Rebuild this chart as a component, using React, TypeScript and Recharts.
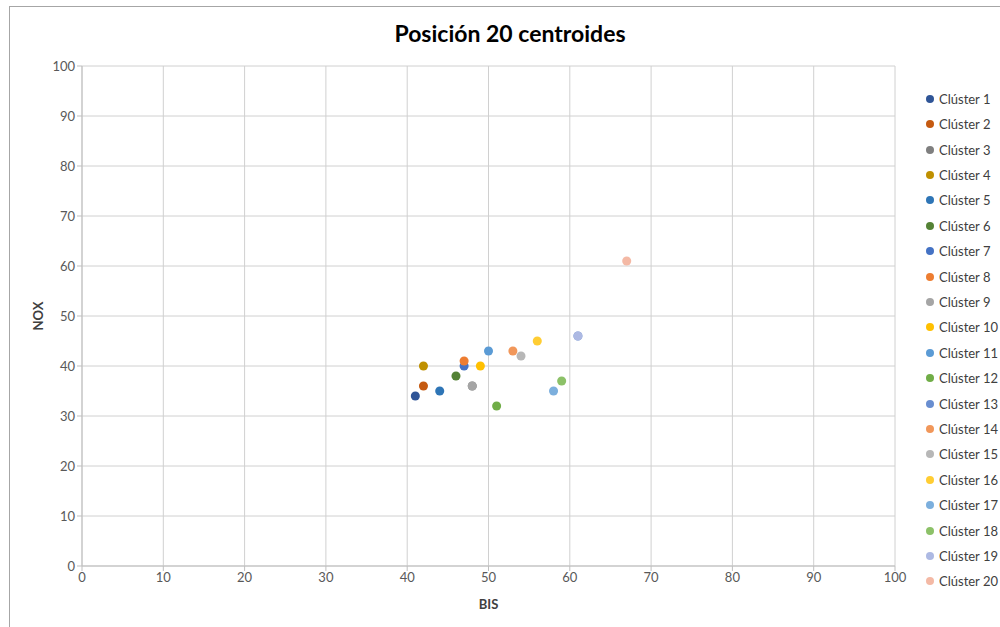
import React from "react";
import {
  CartesianGrid,
  ScatterChart,
  Scatter,
  XAxis,
  YAxis,
} from "recharts";

// Centroid positions (BIS, NOX) for each of the 20 clusters
const clusterNames = Array.from({ length: 20 }, (_, i) => `Clúster ${i + 1}`);
const bisValues = [41, 42, 48, 42, 44, 46, 47, 47, 48, 49, 50, 51, 61, 53, 54, 56, 58, 59, 61, 67];
const noxValues = [34, 36, 36, 40, 35, 38, 40, 41, 36, 40, 43, 32, 46, 43, 42, 45, 35, 37, 46, 61];
const clusterColors = [
  "#2F5597", "#C55A11", "#7F7F7F", "#BF9000", "#2E75B6",
  "#548235", "#4472C4", "#ED7D31", "#A5A5A5", "#FFC000",
  "#5B9BD5", "#70AD47", "#698ED0", "#F1975A", "#B7B7B7",
  "#FFCD33", "#7CAFDD", "#8CC168", "#ADB9E3", "#F4B9A5",
];
const axisTicks = [0, 10, 20, 30, 40, 50, 60, 70, 80, 90, 100];

const FONT = "Lato, 'Open Sans', sans-serif";
const tickStyle = { fontSize: 13, fill: "#595959", fontFamily: FONT };

document.body.style.margin = "0";

export default function App() {
  return (
    <div
      style={{
        position: "relative",
        width: 1000,
        height: 627,
        overflow: "hidden",
        background: "#fff",
        fontFamily: FONT,
      }}
    >
      {/* chart frame, only top and left edges fall inside the view */}
      <div
        style={{
          position: "absolute",
          left: 9,
          top: 6,
          width: 1100,
          height: 800,
          border: "1px solid #a6a6a6",
        }}
      />
      <div
        style={{
          position: "absolute",
          top: 19,
          left: 0,
          width: 1020,
          textAlign: "center",
          fontSize: 23,
          fontWeight: 700,
          color: "#000",
        }}
      >
        Posición 20 centroides
      </div>
      <div style={{ position: "absolute", left: 0, top: 0 }}>
        <ScatterChart
          width={1000}
          height={627}
          margin={{ top: 66, right: 105, bottom: 0, left: 0 }}
        >
          <CartesianGrid stroke="#d0d0d0" />
          <XAxis
            type="number"
            dataKey="x"
            domain={[0, 100]}
            ticks={axisTicks}
            height={61}
            stroke="#bfbfbf"
            tickSize={5}
            tick={tickStyle}
            label={{
              value: "BIS",
              position: "center",
              dy: 8,
              style: { fontSize: 13, fontWeight: 700, fill: "#404040", fontFamily: FONT },
            }}
          />
          <YAxis
            type="number"
            dataKey="y"
            domain={[0, 100]}
            ticks={axisTicks}
            width={82}
            stroke="#bfbfbf"
            tickSize={5}
            tick={tickStyle}
            label={{
              value: "NOX",
              angle: -90,
              position: "center",
              dx: -3,
              style: { fontSize: 13, fontWeight: 700, fill: "#404040", fontFamily: FONT },
            }}
          />
          {clusterNames.map((name, i) => (
            <Scatter
              key={name}
              name={name}
              data={[{ x: bisValues[i], y: noxValues[i] }]}
              fill={clusterColors[i]}
              isAnimationActive={false}
            />
          ))}
        </ScatterChart>
      </div>
      {/* legend */}
      <div style={{ position: "absolute", left: 926, top: 86 }}>
        {clusterNames.map((name, i) => (
          <div
            key={name}
            style={{
              display: "flex",
              alignItems: "center",
              height: 25.42,
              fontSize: 13,
              color: "#404040",
            }}
          >
            <span
              style={{
                width: 8,
                height: 8,
                borderRadius: "50%",
                background: clusterColors[i],
                marginRight: 5,
              }}
            />
            {name}
          </div>
        ))}
      </div>
    </div>
  );
}
